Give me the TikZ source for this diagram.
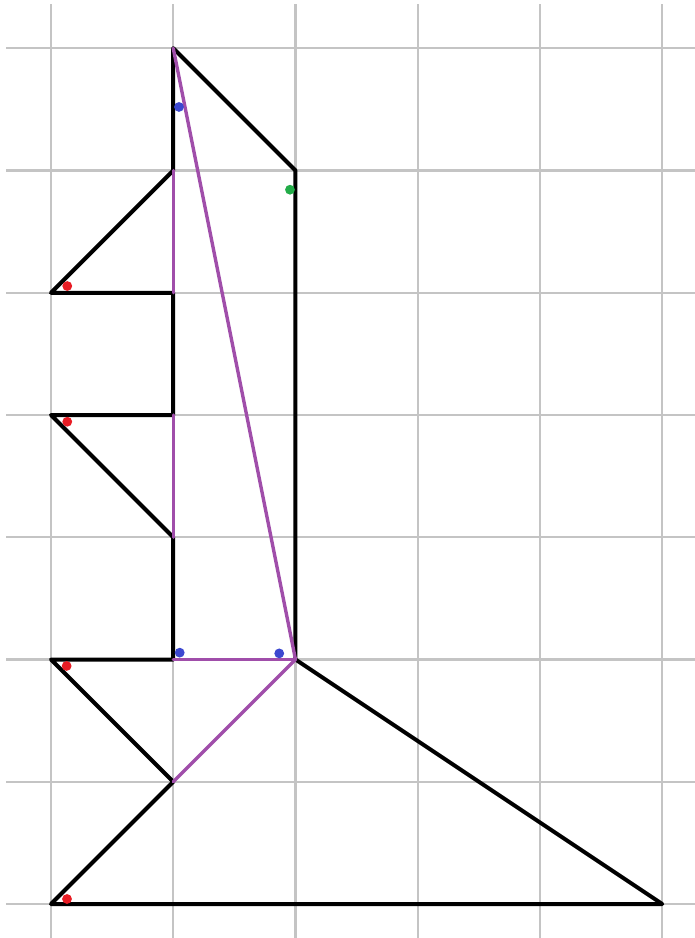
\documentclass[tikz,border=0pt]{standalone}
\begin{document}
\begin{tikzpicture}[x=122.25pt,y=122.25pt,
  gridline/.style={draw={rgb,255:red,196;green,196;blue,196},line width=2.4pt},
  edge/.style={draw=black,line width=4pt,line join=round,line cap=round},
  diag/.style={draw={rgb,255:red,160;green,78;blue,170},line width=3.4pt,line cap=round},
  dot/.style={circle,inner sep=0pt,minimum size=9.8pt,draw=none},
  reddot/.style={dot,fill={rgb,255:red,232;green,28;blue,36}},
  bluedot/.style={dot,fill={rgb,255:red,60;green,72;blue,208}},
  greendot/.style={dot,fill={rgb,255:red,34;green,172;blue,72}}]
\useasboundingbox (-0.4172,-0.2781) rectangle (5.268,7.395);
\fill[white] (-0.4172,-0.2781) rectangle (5.268,7.395);
% grid
\foreach \i in {0,...,7} \draw[gridline] (-0.368,\i) -- (5.268,\i);
\foreach \i in {0,...,5} \draw[gridline] (\i,-0.2781) -- (\i,7.362);
% points
\coordinate (A) at (1,7);
\coordinate (B) at (2,6);
\coordinate (C) at (2,2);
\coordinate (D) at (5,0);
\coordinate (E) at (0,0);
\coordinate (F) at (1,1);
\coordinate (G) at (0,2);
\coordinate (H) at (1,2);
\coordinate (I) at (1,3);
\coordinate (J) at (0,4);
\coordinate (K) at (1,4);
\coordinate (L) at (1,5);
\coordinate (M) at (0,5);
\coordinate (N) at (1,6);
% black outline
\draw[edge] (A) -- (B) -- (C) -- (D) -- (E) -- (F) -- (G) -- (H) -- (I) -- (J) -- (K) -- (L) -- (M) -- (N) -- (A);
% purple segments
\draw[diag] (A) -- (C);
\draw[diag] (H) -- (C);
\draw[diag] (F) -- (C);
\draw[diag] (N) -- (L);
\draw[diag] (K) -- (I);
% dots
\node[bluedot] (b1) at (1.047,6.52) {};
\node[greendot] (g1) at (1.955,5.843) {};
\node[reddot] (r1) at (0.133,5.055) {};
\node[reddot] (r2) at (0.133,3.945) {};
\node[bluedot] (b2) at (1.053,2.056) {};
\node[bluedot] (b3) at (1.867,2.05) {};
\node[reddot] (r3) at (0.128,1.947) {};
\node[reddot] (r4) at (0.131,0.041) {};
\end{tikzpicture}
\end{document}
